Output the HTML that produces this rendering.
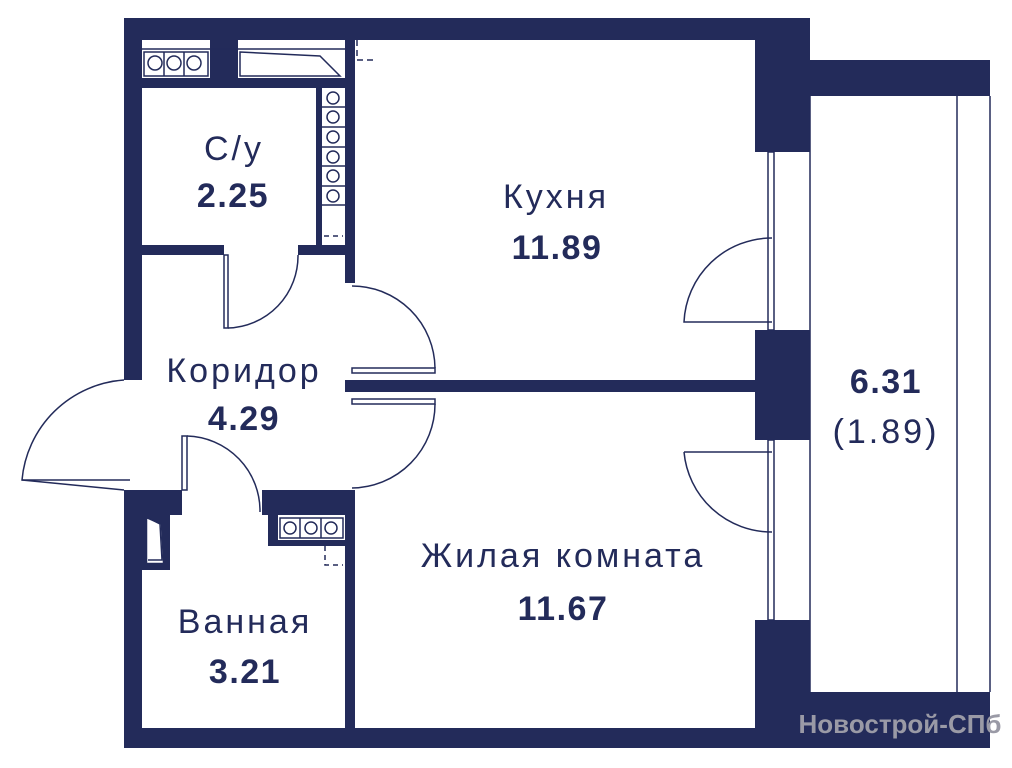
<!DOCTYPE html>
<html><head><meta charset="utf-8"><style>
html,body{margin:0;padding:0;background:#fff;width:1012px;height:768px;overflow:hidden}
text{font-family:"Liberation Sans",sans-serif;fill:#232b5a}
</style></head><body>
<svg width="1012" height="768" viewBox="0 0 1012 768" xmlns="http://www.w3.org/2000/svg">
<g fill="#232b5a">
<rect x="124" y="18" width="686" height="22"/>
<rect x="124" y="18" width="18" height="362"/>
<rect x="124" y="490" width="18" height="258"/>
<rect x="124" y="728" width="686" height="20"/>
<rect x="755" y="18" width="55" height="134"/>
<rect x="755" y="330" width="55" height="110"/>
<rect x="755" y="620" width="55" height="128"/>
<rect x="810" y="60" width="180" height="36"/>
<rect x="810" y="692" width="180" height="56"/>
<rect x="345" y="40" width="10" height="243"/>
<rect x="345" y="380" width="410" height="12"/>
<rect x="345" y="490" width="10" height="238"/>
<rect x="142" y="78" width="203" height="10"/>
<rect x="316" y="88" width="6" height="157"/>
<rect x="124" y="245" width="100" height="10"/>
<rect x="298" y="245" width="57" height="10"/>
<rect x="124" y="490" width="58" height="25"/>
<rect x="262" y="490" width="93" height="25"/>
<rect x="210" y="40" width="28" height="40"/>
<rect x="268" y="515" width="10" height="30"/>
<rect x="268" y="540" width="77" height="6"/>
<rect x="142" y="510" width="28" height="60"/>
</g>
<g fill="none" stroke="#232b5a" stroke-width="1.5">
<line x1="142" y1="49" x2="345" y2="49"/>
<rect x="144" y="52" width="64" height="24" fill="#fff"/>
<circle cx="155" cy="63" r="7"/><circle cx="174" cy="63" r="7"/><circle cx="194" cy="63" r="7"/>
<line x1="164" y1="52" x2="164" y2="76"/><line x1="184" y1="52" x2="184" y2="76"/>
<path d="M240 52 L320 56 L340 76 L240 76 Z"/>
<path d="M357 40 V60 H375" stroke-dasharray="6,4"/>
<circle cx="333" cy="98" r="6"/><circle cx="333" cy="117" r="6"/><circle cx="333" cy="137" r="6"/>
<circle cx="333" cy="157" r="6"/><circle cx="333" cy="176" r="6"/><circle cx="333" cy="196" r="6"/>
<line x1="322" y1="107" x2="345" y2="107"/><line x1="322" y1="127" x2="345" y2="127"/>
<line x1="322" y1="147" x2="345" y2="147"/><line x1="322" y1="166" x2="345" y2="166"/>
<line x1="322" y1="186" x2="345" y2="186"/><line x1="322" y1="205" x2="345" y2="205"/>
<line x1="324" y1="236" x2="343" y2="236" stroke-dasharray="5,4"/>
<rect x="224" y="255" width="4" height="73"/>
<path d="M228 328 A72 72 0 0 0 298 255"/>
<rect x="352" y="368" width="83" height="5"/>
<path d="M435 368 A83 83 0 0 0 352 286"/>
<rect x="352" y="399" width="83" height="5"/>
<path d="M435 404 A84 84 0 0 1 352 488"/>
<path d="M124 380 A110 110 0 0 0 22 480 L130 480"/>
<line x1="22" y1="480" x2="124" y2="490"/>
<rect x="182" y="436" width="5" height="54"/>
<path d="M187 436 A75 75 0 0 1 260 512"/>
<rect x="280" y="518" width="63" height="20" fill="#fff"/>
<circle cx="290" cy="528" r="6"/><circle cx="311" cy="528" r="6"/><circle cx="331" cy="528" r="6"/>
<line x1="300" y1="518" x2="300" y2="538"/><line x1="321" y1="518" x2="321" y2="538"/>
<path d="M325 546 V565 H343" stroke-dasharray="5,4"/>
<path d="M148 520 L160 525 L162 562 L148 562 Z" fill="#fff" stroke="#fff"/>
<path d="M148 518 L160 524 L162 560 L148 560"/>
<rect x="768" y="152" width="6" height="178"/>
<rect x="768" y="440" width="6" height="180"/>
<path d="M772 238 A88 88 0 0 0 684 322 L772 322"/>
<path d="M684 452 L772 452 M684 452 A88 88 0 0 0 772 532"/>
<line x1="810" y1="96" x2="810" y2="692"/>
<line x1="990" y1="96" x2="990" y2="692"/>
<line x1="957" y1="96" x2="957" y2="692"/>
</g>
<g font-size="34" text-anchor="middle" letter-spacing="3">
<text x="234" y="160">С/у</text>
<text x="556" y="208">Кухня</text>
<text x="244" y="382">Коридор</text>
<text x="563" y="567">Жилая комната</text>
<text x="245" y="633">Ванная</text>
<text x="886" y="443">(1.89)</text>
</g>
<g font-size="34" text-anchor="middle" font-weight="bold" letter-spacing="1.5">
<text x="233" y="207">2.25</text>
<text x="557" y="259">11.89</text>
<text x="244" y="430">4.29</text>
<text x="563" y="620">11.67</text>
<text x="245" y="683">3.21</text>
<text x="886" y="393">6.31</text>
</g>
<text x="900" y="733" font-size="26" font-weight="bold" text-anchor="middle" style="fill:#9a9aa6">Новострой-СПб</text>
</svg>
</body></html>
